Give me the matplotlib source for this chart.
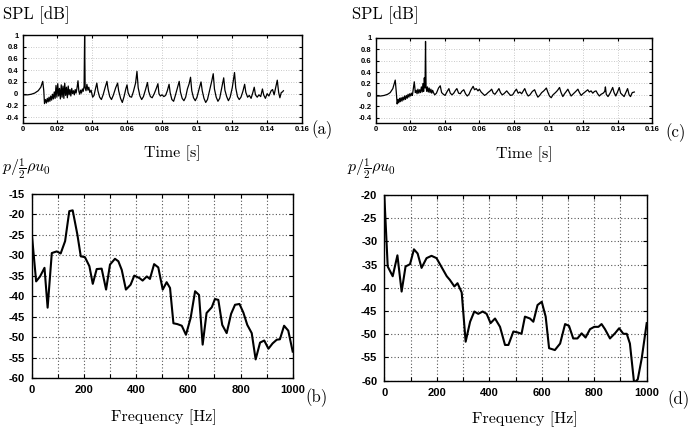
import numpy as np
import matplotlib
matplotlib.use("Agg")
import matplotlib.pyplot as plt
from matplotlib.ticker import FixedLocator, FuncFormatter

plt.rcParams['axes.unicode_minus'] = False
plt.rcParams['mathtext.fontset'] = 'cm'

# ---------------- data ----------------
# (a) time signal: time in ms, value
t_a = [0, 3, 5, 7, 9, 10.5, 11.6, 12.2, 12.6,
       13.2, 13.7, 14.2, 14.7, 15.2, 15.7, 16.2, 16.7, 17.2, 17.7, 18.2, 18.7, 19.2, 19.7, 20.2, 20.7,
       21.2, 21.7, 22.2, 22.7, 23.2, 23.7, 24.2, 24.7, 25.2, 25.7, 26.2, 26.7, 27.2, 27.7, 28.2, 28.7,
       29.2, 29.7, 30.2, 30.7, 31.3, 31.8, 32.3, 32.8, 33.3, 33.8, 34.3, 34.8, 35.3, 35.6, 35.9, 36.4,
       36.9, 37.5, 38.0, 38.6, 39.3, 40.2, 41.0, 41.8, 42.6, 43.2, 44.2, 45.2, 46.2, 47.3, 48.4, 49.0,
       50.0, 51.0, 52.0, 53.4, 54.5, 55.1, 56.2, 57.2, 58.2, 59.2, 59.9, 60.5, 61.5, 62.5, 63.5, 64.8,
       65.6, 66.3, 67.3, 68.3, 69.3, 70.6, 71.6, 72.3, 73.3, 74.3, 75.5, 76.8, 77.6, 78.2, 79.0, 80.0,
       81.0, 82.0, 83.0, 84.0, 84.6, 85.6, 86.6, 87.6, 88.8, 89.8, 90.5, 91.5, 92.5, 93.5, 94.5, 95.5,
       96.3, 97.0, 98.0, 99.0, 100.0, 101.2, 102.3, 103.0, 104.0, 105.0, 106.0, 107.2, 108.5, 109.3,
       110.0, 111.0, 112.0, 113.0, 114.2, 115.3, 116.0, 117.0, 118.0, 119.0, 120.2, 121.5, 122.2, 123.2,
       124.2, 125.2, 126.3, 127.3, 128.0, 129.0, 130.0, 131.0, 132.0, 132.8, 133.5, 134.5, 135.5, 136.5,
       137.5, 138.2, 139.2, 140.2, 141.2, 142.5, 143.3, 144.2, 145.2, 146.0, 146.8, 147.5, 148.3, 149.0,
       149.5]
v_a = [-0.02, -0.02, -0.01, 0.01, 0.05, 0.11, 0.21, 0.05, -0.17,
       -0.10, -0.16, -0.08, -0.14, -0.06, -0.13, -0.04, -0.11, -0.01, -0.09, 0.03, -0.08, 0.14, -0.06, 0.17, -0.04,
       0.09, -0.09, 0.15, -0.06, 0.13, -0.08, 0.18, -0.03, 0.11, -0.07, 0.13, -0.02, 0.07, -0.04, 0.09, 0.00,
       0.05, -0.02, 0.07, 0.01, 0.11, 0.22, 0.04, -0.01, 0.06, 0.01, 0.08, 0.04, 0.13, 1.00, 0.10, 0.05,
       0.16, 0.06, 0.11, 0.02, 0.06, -0.06, -0.03, 0.08, 0.18, 0.05, -0.06, -0.10, -0.02, 0.10, 0.21, 0.08,
       -0.05, -0.10, -0.03, 0.10, 0.18, 0.05, -0.08, -0.15, -0.05, 0.08, 0.15, 0.02, -0.05, -0.06, 0.03, 0.18,
       0.38, 0.10, -0.04, -0.10, -0.05, 0.08, 0.19, 0.04, -0.05, -0.07, 0.00, 0.10, 0.17, 0.00, -0.04, -0.02,
       -0.05, -0.03, 0.05, 0.16, 0.02, -0.10, -0.13, -0.03, 0.10, 0.21, 0.03, -0.08, -0.12, -0.06, 0.08, 0.17,
       0.28, 0.05, -0.07, -0.12, -0.06, 0.08, 0.20, 0.05, -0.08, -0.15, -0.10, 0.05, 0.22, 0.34,
       0.08, -0.06, -0.13, -0.08, 0.10, 0.27, 0.06, -0.05, -0.12, -0.06, 0.10, 0.36, 0.10, -0.05,
       -0.10, -0.06, 0.04, 0.16, 0.02, -0.06, -0.03, -0.08, 0.02, 0.11, -0.02, -0.06, -0.02, -0.05,
       0.08, -0.02, -0.08, 0.00, -0.04, 0.05, 0.07, -0.02, 0.12, 0.23, 0.02, -0.07, 0.02, 0.03,
       0.05]

# (c) time signal: time in ms, value
t_c = [0, 3, 5, 7, 8.5, 10, 11.4, 12.0, 12.5,
       13.0, 13.4, 13.9, 14.3, 14.8, 15.3, 15.8, 16.3, 16.8, 17.3, 17.8, 18.3, 18.8, 19.3, 19.8, 20.3,
       20.8, 21.3, 21.8, 22.4, 23.0, 23.5, 24.0, 24.5, 25.0, 25.5, 26.0, 26.5, 27.0, 27.4, 27.8, 28.2,
       28.6, 28.9, 29.2, 29.6, 30.0, 30.5, 31.0, 31.5, 32.0, 32.5, 33.0, 33.5, 34.2, 35.2, 36.4, 37.4,
       38.2, 39.2, 40.2, 41.4, 42.4, 43.2, 44.2, 45.2, 46.2, 47.0, 48.0, 49.0, 49.8, 51.0, 52.0, 53.0,
       54.0, 55.0, 56.4, 57.2, 58.2, 59.2, 60.0, 61.0, 62.0, 63.0, 64.0, 65.0, 66.2, 67.1, 68.0, 69.0,
       70.2, 71.3, 72.2, 73.2, 74.2, 75.8, 76.8, 78.0, 79.2, 80.4, 81.4, 82.4, 83.4, 84.4, 85.4, 86.2,
       87.2, 88.2, 89.2, 90.6, 91.9, 92.8, 93.8, 94.8, 96.0, 97.2, 98.7, 99.5, 100.5, 101.5, 102.5,
       103.6, 104.6, 105.4, 106.3, 107.2, 108.2, 109.2, 110.2, 111.1, 112.0, 113.0, 114.0, 115.0,
       116.0, 116.9, 117.8, 118.8, 119.8, 121.0, 122.6, 123.5, 124.5, 125.5, 126.5, 127.4, 128.3,
       129.3, 130.3, 131.5, 132.4, 132.8, 133.3, 134.3, 135.5, 137.0, 137.8, 138.8, 139.8, 140.8,
       141.6, 142.6, 143.6, 144.6, 145.6, 146.5, 147.3, 148.3, 149.5]
v_c = [-0.02, -0.02, -0.01, 0.01, 0.04, 0.11, 0.26, 0.05, -0.16,
       -0.08, -0.14, -0.06, -0.12, -0.05, -0.11, -0.04, -0.09, -0.02, -0.08, -0.01, -0.06, 0.01, -0.04, 0.02, -0.02,
       0.03, -0.01, 0.10, 0.23, 0.04, 0.08, 0.02, 0.10, 0.03, 0.09, 0.04, 0.14, 0.05, 0.20, 0.06, 0.30,
       0.12, 0.94, 0.15, 0.06, 0.14, 0.05, 0.12, 0.04, 0.10, 0.03, 0.08, 0.04, 0.00, 0.03, 0.12, 0.16,
       0.04, 0.01, -0.01, 0.06, 0.11, 0.03, 0.00, 0.03, 0.08, 0.11, 0.03, 0.02, 0.06, 0.09, 0.02, -0.02,
       0.01, 0.08, 0.15, 0.09, 0.11, 0.07, 0.10, 0.05, 0.02, -0.01, 0.01, 0.04, 0.07, 0.10, 0.03, 0.01,
       0.06, 0.11, 0.04, 0.00, 0.02, 0.07, 0.03, -0.01, 0.00, 0.06, 0.10, 0.03, 0.05, 0.02, 0.07, 0.11,
       0.03, -0.02, 0.00, 0.06, 0.09, 0.02, -0.04, -0.01, 0.04, 0.07, 0.12, 0.05, -0.02, -0.05, 0.00,
       0.03, 0.06, 0.09, 0.13, 0.04, -0.03, 0.02, 0.06, 0.10, 0.04, -0.02, 0.01, 0.04,
       0.07, 0.10, 0.04, -0.01, 0.02, 0.05, 0.09, 0.05, 0.07, 0.03, 0.06, 0.07, 0.02,
       -0.02, 0.01, 0.03, 0.06, 0.14, 0.01, -0.03, 0.03, 0.13, 0.04, -0.02, 0.05, 0.13,
       0.03, 0.00, -0.03, 0.04, 0.11, 0.00, -0.03, 0.04, 0.05]

# (b) spectrum: frequency in Hz, level
f_b = [0, 17, 32, 49, 61, 77, 96, 111, 128, 144, 157, 175, 188, 204, 221, 234, 249, 268, 285, 300,
       319, 332, 345, 361, 379, 393, 413, 425, 441, 453, 469, 485, 502, 517, 530, 543, 558, 575, 591,
       609, 626, 641, 655, 670, 690, 702, 715, 730, 747, 764, 779, 796, 811, 826, 843, 858, 875, 891,
       907, 923, 939, 951, 967, 983, 1000]
p_b = [-24.6, -36.4, -35.2, -33.1, -42.8, -29.5, -29.1, -29.6, -26.6, -19.3, -19.1, -25.0, -30.3, -30.5,
       -32.7, -37.0, -33.4, -33.3, -38.4, -32.3, -30.9, -31.5, -33.6, -38.4, -37.2, -35.0, -35.6, -36.2,
       -35.2, -35.8, -32.2, -33.0, -38.4, -36.6, -38.0, -46.6, -46.8, -47.2, -49.4, -45.3, -38.8, -39.7,
       -51.8, -44.1, -42.7, -40.7, -40.9, -47.0, -49.0, -44.3, -42.1, -41.9, -44.0, -47.0, -49.0, -55.4,
       -51.3, -50.8, -52.8, -51.5, -50.6, -50.5, -47.2, -48.4, -53.5]

# (d) spectrum: frequency in Hz, level
f_d = [0, 13, 32, 50, 66, 81, 98, 113, 127, 142, 161, 180, 199, 219, 238, 250, 267, 279, 295, 310,
       327, 343, 358, 375, 390, 405, 422, 441, 460, 473, 492, 508, 523, 536, 555, 568, 584, 600, 615,
       628, 650, 670, 689, 704, 720, 736, 752, 767, 784, 800, 816, 828, 841, 860, 879, 895, 911, 924,
       936, 952, 966, 981, 1000]
p_d = [-20.0, -35.4, -37.5, -33.0, -40.8, -35.4, -34.9, -31.7, -32.6, -35.7, -33.6, -33.1, -33.6, -35.6,
       -37.5, -38.3, -39.7, -39.0, -41.0, -51.6, -47.3, -45.1, -45.6, -45.1, -45.6, -47.6, -46.6, -48.4,
       -52.3, -52.3, -49.4, -49.6, -49.9, -46.2, -46.6, -47.3, -43.7, -43.0, -46.2, -53.0, -53.4, -52.0,
       -47.8, -48.2, -50.9, -50.9, -49.8, -50.7, -48.9, -48.4, -48.4, -47.8, -48.9, -50.9, -49.8, -48.7,
       -49.9, -49.9, -52.0, -60.5, -59.7, -55.2, -47.6]

time_ticks = [0, 0.02, 0.04, 0.06, 0.08, 0.1, 0.12, 0.14, 0.16]
spl_ticks = [-0.4, -0.2, 0, 0.2, 0.4, 0.6, 0.8, 1]
freq_ticks = [0, 100, 200, 300, 400, 500, 600, 700, 800, 900, 1000]
freq_labels = [0, 200, 400, 600, 800, 1000]
lev_ticks_b = [-60, -55, -50, -45, -40, -35, -30, -25, -20, -15]
lev_ticks_d = [-60, -55, -50, -45, -40, -35, -30, -25, -20]

# ---------------- figure ----------------
W, H = 697, 432
fig = plt.figure(figsize=(W / 100, H / 100), dpi=100)
fig.patch.set_facecolor('white')


def box(l, t, r, b):
    return [l / W, 1 - b / H, (r - l) / W, (b - t) / H]


serif = 'cmr10'


def style(ax, fs, gridcol, gridlw, ypad):
    for s in ax.spines.values():
        s.set_linewidth(1.0)
    ax.tick_params(direction='in', top=True, right=True, length=3, width=0.8,
                   labelsize=fs, pad=2)
    ax.tick_params(axis='y', pad=ypad)
    for lab in ax.get_xticklabels() + ax.get_yticklabels():
        lab.set_fontfamily('Liberation Sans')
        lab.set_fontweight('bold')
    ax.grid(True, linestyle=(0, (1, 2)), color=gridcol, linewidth=gridlw)


def fmt_g(v, pos):
    return '%g' % round(v, 4)


# top panels
for (l, t, r, b), ts, vs in [((22.5, 35, 301.7, 123), t_a, v_a),
                             ((375.5, 38, 652.5, 123.3), t_c, v_c)]:
    ax = fig.add_axes(box(l, t, r, b))
    ax.plot(np.array(ts) / 1000.0, vs, color='black', linewidth=0.9)
    ax.set_xlim(0, 0.16)
    ax.set_ylim(-0.5, 1.0)
    ax.xaxis.set_major_locator(FixedLocator(time_ticks))
    ax.yaxis.set_major_locator(FixedLocator(spl_ticks))
    ax.xaxis.set_major_formatter(FuncFormatter(fmt_g))
    ax.yaxis.set_major_formatter(FuncFormatter(fmt_g))
    style(ax, 5.5, '#b8b8b8', 0.6, 3)
    ax.tick_params(length=2.5)

# bottom panels
for (l, t, r, b), fs_, ps, yt, ylo, yhi in [((31.7, 193.5, 292.7, 378.3), f_b, p_b, lev_ticks_b, -60, -15),
                                            ((384.3, 195, 646.7, 380.7), f_d, p_d, lev_ticks_d, -60, -20)]:
    ax = fig.add_axes(box(l, t, r, b))
    ax.plot(fs_, ps, color='black', linewidth=1.5)
    ax.set_xlim(0, 1000)
    ax.set_ylim(ylo, yhi)
    ax.xaxis.set_major_locator(FixedLocator(freq_ticks))
    ax.yaxis.set_major_locator(FixedLocator(yt))
    ax.xaxis.set_major_formatter(FuncFormatter(lambda v, p: '%d' % v if int(round(v)) in freq_labels else ''))
    ax.yaxis.set_major_formatter(FuncFormatter(lambda v, p: '%d' % v))
    style(ax, 8, '#555555', 0.8, 5)
    ax.tick_params(axis='x', pad=5)


# texts
def tx(x, y, s, size, ha='left', va='center', family=serif, **kw):
    fig.text(x / W, 1 - y / H, s, fontsize=size, ha=ha, va=va, family=family, **kw)


tx(3, 15, 'SPL [dB]', 12)
tx(352, 15, 'SPL [dB]', 12)
tx(172, 153, 'Time [s]', 11.5, ha='center')
tx(524, 154, 'Time [s]', 11.5, ha='center')
tx(311, 130, '(a)', 12)
tx(665, 133, '(c)', 12)
tx(164, 417, 'Frequency [Hz]', 11.5, ha='center')
tx(525, 419, 'Frequency [Hz]', 11.5, ha='center')
tx(305, 398, '(b)', 12)
tx(667, 400, '(d)', 12)
fig.text(2 / W, 1 - 169 / H, r'$p/\frac{1}{2}\rho u_0$', fontsize=11.5, ha='left', va='center')
fig.text(347 / W, 1 - 169 / H, r'$p/\frac{1}{2}\rho u_0$', fontsize=11.5, ha='left', va='center')

fig.savefig('out.png', dpi=100)
